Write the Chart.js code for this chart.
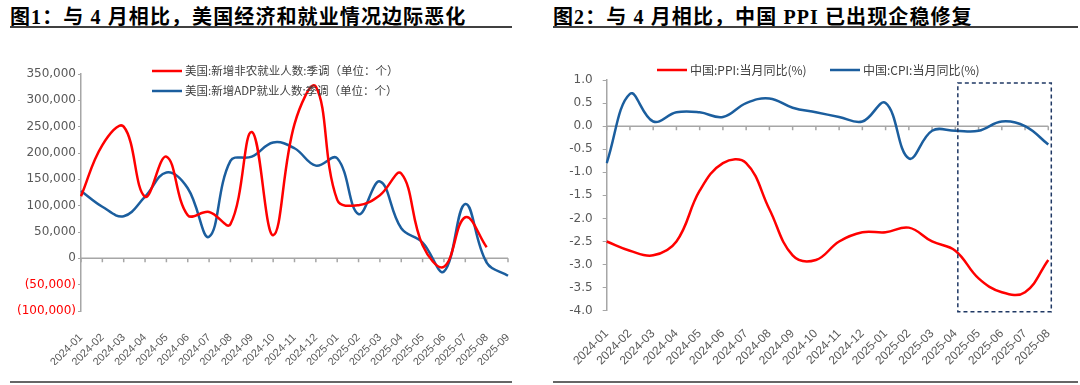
<!DOCTYPE html>
<html>
<head>
<meta charset="utf-8">
<script src="https://cdn.jsdelivr.net/npm/chart.js@4.4.1/dist/chart.umd.min.js"></script>
<style>
  body { margin: 0; width: 1080px; height: 385px; background: #fff; position: relative; overflow: hidden; }
  .title { position: absolute; top: 1px; font: bold 20px "Liberation Serif", "Noto Sans CJK SC", serif; letter-spacing: 1.1px; color: #000; white-space: nowrap; }
  .rule { position: absolute; background: #404040; }
  .box { position: absolute; top: 40px; height: 325px; }
</style>
</head>
<body>
<div class="title" style="left:10px">图1：与 4 月相比，美国经济和就业情况边际恶化</div>
<div class="rule" style="left:10px;width:502px;top:26px;height:1.5px"></div>
<div class="rule" style="left:10px;width:502px;top:381px;height:2px;background:#666"></div>

<div class="title" style="left:553px">图2：与 4 月相比，中国 PPI 已出现企稳修复</div>
<div class="rule" style="left:553px;width:525px;top:26px;height:1.5px"></div>
<div class="rule" style="left:553px;width:525px;top:381px;height:2px;background:#666"></div>

<div class="box" style="left:0;width:530px"><canvas id="chartJobs"></canvas></div>
<div class="box" style="left:540px;width:540px"><canvas id="chartPrices"></canvas></div>

<script>
// ---- data ----
const months1 = [
  "2024-01", "2024-02", "2024-03", "2024-04", "2024-05", "2024-06", "2024-07",
  "2024-08", "2024-09", "2024-10", "2024-11", "2024-12", "2025-01", "2025-02",
  "2025-03", "2025-04", "2025-05", "2025-06", "2025-07", "2025-08", "2025-09",
];
const nfp = [
  118000, 215000, 250000, 117000, 193000, 82000, 88000, 65000, 240000, 44000,
  255000, 326000, 111000, 101000, 120000, 161000, 25000, -16000, 78000, 21000, null,
];
const adp = [
  128000, 98000, 80000, 117000, 163000, 133000, 41000, 185000, 193000, 220000,
  209000, 176000, 190000, 84000, 146000, 57000, 30000, -25000, 103000, -8000, -33000,
];
const jobsMin = -100000;
const jobsMax = 350000;
const jobsStep = 50000;

const months2 = months1.slice(0, 20);
const ppi = [
  -2.5, -2.7, -2.8, -2.5, -1.4, -0.8, -0.8, -1.8, -2.8, -2.9,
  -2.5, -2.3, -2.3, -2.2, -2.5, -2.7, -3.3, -3.6, -3.6, -2.9,
];
const cpi = [
  -0.8, 0.7, 0.1, 0.3, 0.3, 0.2, 0.5, 0.6, 0.4, 0.3,
  0.2, 0.1, 0.5, -0.7, -0.1, -0.1, -0.1, 0.1, 0.0, -0.4,
];
const priceMin = -4;
const priceMax = 1;
const priceStep = 0.5;

const RED = "#FF0000";
const BLUE = "#1B5E9E";
const GREY = "#595959";
const AXIS = "#A6A6A6";

// zero line with tick marks, drawn under the lines
const zeroAxis = {
  id: "zeroAxis",
  beforeDatasetsDraw(chart) {
    const { ctx, chartArea, scales } = chart;
    const y0 = scales.y.getPixelForValue(0);
    ctx.save();
    ctx.strokeStyle = AXIS;
    ctx.lineWidth = 1.5;
    ctx.beginPath();
    ctx.moveTo(chartArea.left, y0);
    ctx.lineTo(chartArea.right, y0);
    scales.x.ticks.forEach((t, i) => {
      const x = scales.x.getPixelForTick(i);
      ctx.moveTo(x, y0);
      ctx.lineTo(x, y0 + 4);
    });
    ctx.stroke();
    ctx.restore();
  },
};

// legend drawn at fixed spots over the plot
const spotLegend = {
  id: "spotLegend",
  afterDatasetsDraw(chart, args, opts) {
    const ctx = chart.ctx;
    ctx.save();
    ctx.font = opts.size + "px 'Noto Sans CJK SC'";
    ctx.textBaseline = "middle";
    chart.data.datasets.forEach((ds, i) => {
      const [x, y] = opts.spots[i];
      ctx.strokeStyle = ds.borderColor;
      ctx.lineWidth = 2.5;
      ctx.beginPath();
      ctx.moveTo(x, y);
      ctx.lineTo(x + 30, y);
      ctx.stroke();
      ctx.fillStyle = "#404040";
      ctx.fillText(ds.label, x + 33, y);
    });
    ctx.restore();
  },
};

// dashed highlight box, chart 2
const focusBox = {
  id: "focusBox",
  afterDatasetsDraw(chart) {
    const { ctx, chartArea, scales } = chart;
    const x1 = scales.x.getPixelForValue(15) + 2.5;
    const x2 = scales.x.getPixelForValue(19) + 3;
    const y1 = chartArea.top + 3;
    const y2 = chartArea.bottom + 1;
    ctx.save();
    ctx.strokeStyle = "#1F3864";
    ctx.lineWidth = 1.5;
    ctx.setLineDash([4, 3]);
    ctx.strokeRect(x1, y1, x2 - x1, y2 - y1);
    ctx.restore();
  },
};

const yTickFont = { family: "DejaVu Sans", size: 12 };

function fmtJobs(v) {
  if (v < 0) return "(" + Math.abs(v).toLocaleString("en-US") + ")";
  return v.toLocaleString("en-US");
}

// Chart 1: US payrolls
new Chart(document.getElementById("chartJobs"), {
  type: "line",
  data: {
    labels: months1,
    datasets: [
      { label: "美国:新增非农就业人数:季调（单位：个）", data: nfp, borderColor: RED },
      { label: "美国:新增ADP就业人数:季调（单位：个）", data: adp, borderColor: BLUE },
    ],
  },
  options: {
    responsive: true,
    maintainAspectRatio: false,
    animation: false,
    layout: { padding: { top: 34, right: 22, left: 0, bottom: 0 } },
    elements: {
      line: { borderWidth: 2.5, tension: 0.4, fill: false },
      point: { radius: 0 },
    },
    plugins: {
      legend: { display: false },
      tooltip: { enabled: false },
      spotLegend: { size: 11.5, spots: [[152, 31], [152, 51]] },
    },
    scales: {
      x: {
        grid: { display: false },
        border: { display: false },
        ticks: {
          minRotation: 45, maxRotation: 45, autoSkip: false, color: GREY,
          font: { family: "Liberation Sans", size: 11 }, padding: 12,
        },
        afterFit: (s) => { s.height = 54; },
      },
      y: {
        min: jobsMin,
        max: jobsMax,
        ticks: {
          stepSize: jobsStep,
          color: (c) => (c.tick.value < 0 ? RED : GREY),
          font: yTickFont,
          padding: 2,
          callback: fmtJobs,
        },
        grid: { drawOnChartArea: false, tickLength: 3, color: AXIS },
        border: { color: AXIS, width: 1.5 },
        afterFit: (s) => { s.width = 81; },
      },
    },
  },
  plugins: [zeroAxis, spotLegend],
});

// Chart 2: China PPI / CPI
new Chart(document.getElementById("chartPrices"), {
  type: "line",
  data: {
    labels: months2,
    datasets: [
      { label: "中国:PPI:当月同比(%)", data: ppi, borderColor: RED },
      { label: "中国:CPI:当月同比(%)", data: cpi, borderColor: BLUE },
    ],
  },
  options: {
    responsive: true,
    maintainAspectRatio: false,
    animation: false,
    layout: { padding: { top: 40, right: 31.7, left: 0, bottom: 0 } },
    elements: {
      line: { borderWidth: 2.5, tension: 0.4, fill: false },
      point: { radius: 0 },
    },
    plugins: {
      legend: { display: false },
      tooltip: { enabled: false },
      spotLegend: { size: 12, spots: [[117, 30], [290, 30]] },
    },
    scales: {
      x: {
        grid: { display: false },
        border: { display: false },
        ticks: {
          minRotation: 45, maxRotation: 45, autoSkip: false, color: GREY,
          font: { family: "Liberation Sans", size: 12 }, padding: 8,
        },
        afterFit: (s) => { s.height = 54.3; },
      },
      y: {
        min: priceMin,
        max: priceMax,
        ticks: {
          stepSize: priceStep,
          color: GREY,
          font: yTickFont,
          padding: 10,
          callback: (v) => v.toFixed(1),
        },
        grid: { drawOnChartArea: false, tickLength: 4, color: AXIS },
        border: { color: AXIS, width: 1.5 },
        afterFit: (s) => { s.width = 66.7; },
      },
    },
  },
  plugins: [zeroAxis, spotLegend, focusBox],
});
</script>
</body>
</html>
